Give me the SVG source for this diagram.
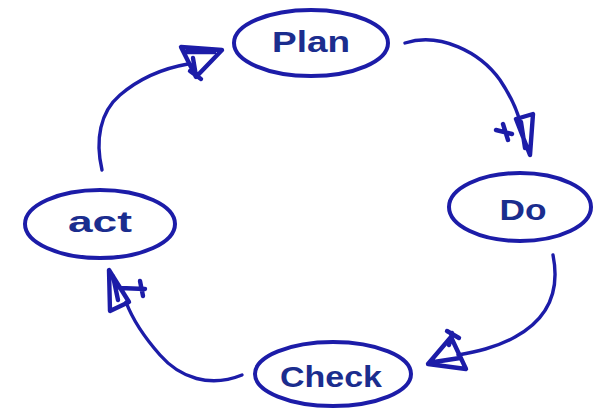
<svg xmlns="http://www.w3.org/2000/svg" width="595" height="411" viewBox="0 0 595 411">
<style>
.sh{fill:none;stroke:#1c1ca8;stroke-width:4;stroke-linecap:round;stroke-linejoin:round}
.ln{fill:none;stroke:#1c1ca8;stroke-width:3.4;stroke-linecap:round;stroke-linejoin:round}
.ah{fill:none;stroke:#1c1ca8;stroke-width:4.4;stroke-linecap:round;stroke-linejoin:round}
.tx{font-family:"Liberation Sans","DejaVu Sans",sans-serif;font-weight:bold;fill:#1b2d8e;text-anchor:middle}
</style>
<rect width="595" height="411" fill="#ffffff"/>
<g id="connectors">
  <g id="plan-do">
    <path class="ln" d="M405,43 C440,32 480,52 500,80 C512,98 517,110 520,122"/>
    <path class="ah" d="M516,119 L533,114 L530,155 Z M521,122 L525,148 M496,130 L512,134 M503,124 L508,140"/>
  </g>
  <g id="do-check">
    <path class="ln" d="M553,255 C560,290 550,318 515,337 C495,348 475,352 458,355"/>
    <path class="ah" d="M428,364 L451,337 L466,369 Z M434,362 L460,358 M447,331 L459,338 M452,333 L449,345"/>
  </g>
  <g id="check-act">
    <path class="ln" d="M242,375 C210,388 180,378 160,355 C145,338 132,318 126,302"/>
    <path class="ah" d="M109,270 L110,311 L129,302 Z M113,276 L118,300 M120,288 L145,289 M140,281 L143,296"/>
  </g>
  <g id="act-plan">
    <path class="ln" d="M102,170 C95,140 100,112 120,95 C140,78 165,68 188,64"/>
    <path class="ah" d="M181,47 L222,50 L196,77 Z M186,52 L214,52 M190,71 L201,79 M193,58 L196,76"/>
  </g>
</g>
<g id="plan">
  <ellipse class="sh" cx="311" cy="43" rx="77" ry="33"/>
  <text class="tx" x="311" y="52" font-size="29" textLength="78" lengthAdjust="spacingAndGlyphs">Plan</text>
</g>
<g id="do">
  <ellipse class="sh" cx="520" cy="207" rx="71" ry="34"/>
  <text class="tx" x="523" y="220" font-size="29" textLength="47" lengthAdjust="spacingAndGlyphs">Do</text>
</g>
<g id="act">
  <ellipse class="sh" cx="100" cy="224" rx="75" ry="34"/>
  <text class="tx" x="100" y="232" font-size="29" textLength="64" lengthAdjust="spacingAndGlyphs">act</text>
</g>
<g id="check">
  <ellipse class="sh" cx="333" cy="374" rx="78" ry="32"/>
  <text class="tx" x="331" y="387" font-size="29" textLength="102" lengthAdjust="spacingAndGlyphs">Check</text>
</g>
</svg>
